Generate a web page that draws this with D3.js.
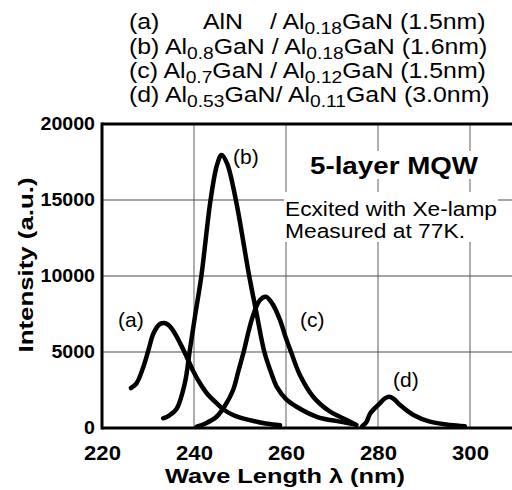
<!DOCTYPE html>
<html><head><meta charset="utf-8">
<script src="https://cdn.jsdelivr.net/npm/d3@7"></script>
<style>body{margin:0;background:#fff}svg{display:block}text{font-family:"Liberation Sans",Arial,sans-serif;fill:#000}</style>
</head><body>
<svg id="c" width="512" height="490"></svg>
<script>
// ---- data ----
const xTicks = [220, 240, 260, 280, 300];
const yTicks = [0, 5000, 10000, 15000, 20000];
const seriesNames = ["(a)", "(b)", "(c)", "(d)"];
const curveA = [[226.3,2630],[227.5,2940],[229,4030],[230.1,5130],[231.2,6230],[232.6,6840],[233.8,6890],[235.1,6560],[237,5570],[238.4,4690],[239.9,3700],[241.3,2940],[243,2200],[244.9,1640],[246.5,1200],[248.5,855],[251,600],[253.6,420],[256,280],[258.7,180]];
const curveB = [[233.3,640],[234.6,820],[236.2,1250],[238,2940],[239.1,5130],[240.2,7320],[241.6,10000],[243.6,15000],[245,17300],[246,17960],[247.2,17400],[249.1,15000],[252,10000],[253.5,7700],[255.3,5000],[256.7,3700],[258,2700],[260,1900],[262.3,1400],[266.7,740],[271.7,420],[275,240]];
const curveC = [[240.6,90],[242.5,300],[244.9,740],[246.8,1500],[248.5,2500],[249.7,3800],[250.9,5130],[251.9,6400],[253,7550],[254.3,8400],[255.6,8640],[257,8200],[258.7,7100],[260,5900],[261.1,5000],[263,3500],[265.9,2060],[269.6,1070],[273.2,530],[275.3,200]];
const curveD = [[276.5,100],[277.5,400],[278.3,960],[280.4,1620],[281.5,1950],[282.5,2060],[283.5,1900],[284.8,1510],[287.7,860],[291.3,420],[295.7,200],[298.9,120]];
const headerLines = [
  ["(a)", "AlN", "/ Al", "0.18", "GaN (1.5nm)"],
  ["(b) Al", "0.8", "GaN / Al", "0.18", "GaN (1.6nm)"],
  ["(c) Al", "0.7", "GaN / Al", "0.12", "GaN (1.5nm)"],
  ["(d) Al", "0.53", "GaN/ Al", "0.11", "GaN (3.0nm)"]
];
const titleText = "5-layer MQW";
const noteLines = ["Ecxited with Xe-lamp", "Measured at 77K."];
const xTitle = "Wave Length \u03bb (nm)";
const yTitle = "Intensity (a.u.)";

// ---- layout ----
const svg = d3.select("#c");
const L = 102, T = 124, B = 428;
const x = d3.scaleLinear().domain([220, 320]).range([L, L + 460]);
const y = d3.scaleLinear().domain([0, 20000]).range([B, T]);

// gridlines
const g = svg.append("g");
g.selectAll("line.v").data(xTicks.slice(1)).enter().append("line")
  .attr("x1", d => x(d)).attr("x2", d => x(d)).attr("y1", T).attr("y2", B)
  .attr("stroke", "#7a7a7a").attr("stroke-width", 1.2);
g.selectAll("line.h").data(yTicks.slice(1, -1)).enter().append("line")
  .attr("x1", L).attr("x2", 512).attr("y1", d => y(d)).attr("y2", d => y(d))
  .attr("stroke", "#4a4a4a").attr("stroke-width", 1.2);

// white boxes behind annotations
svg.append("rect").attr("x", 306).attr("y", 151).attr("width", 176).attr("height", 28).attr("fill", "#fff");
svg.append("rect").attr("x", 284).attr("y", 192).attr("width", 214).attr("height", 50).attr("fill", "#fff");

// frame
svg.append("line").attr("x1", L).attr("x2", 512).attr("y1", T).attr("y2", T).attr("stroke", "#000").attr("stroke-width", 3);
svg.append("line").attr("x1", L).attr("x2", 512).attr("y1", B).attr("y2", B).attr("stroke", "#000").attr("stroke-width", 3);
svg.append("line").attr("x1", L).attr("x2", L).attr("y1", T - 1.5).attr("y2", B + 1.5).attr("stroke", "#000").attr("stroke-width", 3);

// axes
const ax = svg.append("g").attr("transform", `translate(0,${B})`)
  .call(d3.axisBottom(x).tickValues(xTicks).tickSize(0).tickPadding(17).tickFormat(d3.format("d")));
ax.select(".domain").remove();
ax.selectAll("text").attr("font-size", 21).attr("font-weight", "bold")
  .attr("font-family", '"Liberation Sans",Arial,sans-serif').attr("fill", "#000")
  .attr("textLength", d => String(d).length * 12.3).attr("lengthAdjust", "spacingAndGlyphs");
const ay = svg.append("g").attr("transform", `translate(${L},0)`)
  .call(d3.axisLeft(y).tickValues(yTicks).tickSize(0).tickPadding(7).tickFormat(d3.format("d")));
ay.select(".domain").remove();
ay.selectAll("text").attr("font-size", 18).attr("font-weight", "bold")
  .attr("font-family", '"Liberation Sans",Arial,sans-serif').attr("fill", "#000")
  .attr("textLength", d => String(d).length * 10.9).attr("lengthAdjust", "spacingAndGlyphs");

// curves
const line = d3.line().x(d => x(d[0])).y(d => y(d[1])).curve(d3.curveCatmullRom.alpha(0.5));
[curveA, curveB, curveC, curveD].forEach(c => {
  svg.append("path").datum(c).attr("d", line).attr("fill", "none")
    .attr("stroke", "#000").attr("stroke-width", 4.5).attr("stroke-linecap", "round").attr("stroke-linejoin", "round");
});

// curve labels
const labelPos = [[118, 327], [233, 164], [300, 327], [393, 387]];
seriesNames.forEach((s, i) => {
  svg.append("text").attr("x", labelPos[i][0]).attr("y", labelPos[i][1]).attr("font-size", 21).text(s);
});

// header
const hdr = [29, 54, 78, 102];
headerLines.forEach((parts, i) => {
  const t = svg.append("text").attr("font-size", 22)
    .attr("transform", `translate(129,${hdr[i]}) scale(1.13,1)`);
  if (i === 0) {
    t.append("tspan").attr("x", 0).text(parts[0]);
    t.append("tspan").attr("x", 65.5).text(parts[1]);
    t.append("tspan").attr("x", 124.8).text(parts[2]);
    t.append("tspan").attr("font-size", 17).attr("dy", 5).text(parts[3]);
    t.append("tspan").attr("dy", -5).text(parts[4]);
  } else {
    t.append("tspan").text(parts[0]);
    t.append("tspan").attr("font-size", 17).attr("dy", 5).text(parts[1]);
    t.append("tspan").attr("dy", -5).text(parts[2]);
    t.append("tspan").attr("font-size", 17).attr("dy", 5).text(parts[3]);
    t.append("tspan").attr("dy", -5).text(parts[4]);
  }
});

// annotations
svg.append("text").attr("x", 310).attr("y", 173.5).attr("font-size", 24).attr("font-weight", "bold")
  .attr("textLength", 168).attr("lengthAdjust", "spacingAndGlyphs").text(titleText);
svg.append("text").attr("x", 285).attr("y", 216).attr("font-size", 19.5)
  .attr("textLength", 212).attr("lengthAdjust", "spacingAndGlyphs").text(noteLines[0]);
svg.append("text").attr("x", 285).attr("y", 238).attr("font-size", 19.5)
  .attr("textLength", 180).attr("lengthAdjust", "spacingAndGlyphs").text(noteLines[1]);

// axis titles
svg.append("text").attr("x", 285).attr("y", 483).attr("text-anchor", "middle").attr("font-size", 21)
  .attr("font-weight", "bold").attr("textLength", 240).attr("lengthAdjust", "spacingAndGlyphs").text(xTitle);
svg.append("text").attr("transform", "translate(33,265) rotate(-90)").attr("text-anchor", "middle")
  .attr("font-size", 21).attr("font-weight", "bold").attr("textLength", 175).attr("lengthAdjust", "spacingAndGlyphs").text(yTitle);
</script>
</body></html>
